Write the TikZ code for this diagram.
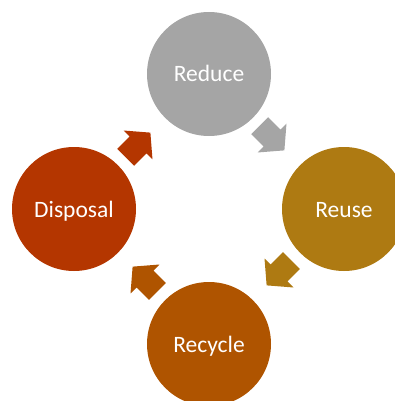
\documentclass[tikz,border=0pt]{standalone}
\usepackage{fontspec}
\setmainfont{Carlito}
\definecolor{cgray}{HTML}{A5A5A5}
\definecolor{cgold}{HTML}{AE7A12}
\definecolor{corange}{HTML}{AF5400}
\definecolor{cred}{HTML}{B43600}
\begin{document}
\begin{tikzpicture}[x=1pt,y=-1pt,
  circ/.style={circle, minimum size=124pt, inner sep=0pt, text=white,
    font=\fontsize{23.5}{28}\selectfont, text height=16pt, text depth=0pt},
  cyclearrow/.pic={\fill[pic actions] (-17.5,-12) -- (0,-12) -- (0,-20.5) -- (17.5,0) -- (0,20.5) -- (0,12) -- (-17.5,12) -- cycle;}]
\useasboundingbox (0,0) rectangle (395,401);
\clip (0,0) rectangle (395,401);
\node[circ, fill=cgray] (reduce) at (209,74) {Reduce};
\node[circ, fill=cgold] (reuse) at (344,209) {Reuse};
\node[circ, fill=corange] (recycle) at (209,344) {Recycle};
\node[circ, fill=cred] (disposal) at (74,209) {Disposal};
\pic[fill=cgray, rotate=-45] at (272,138) {cyclearrow};
\pic[fill=cgold, rotate=-135] at (279,273) {cyclearrow};
\pic[fill=corange, rotate=135] at (145,279) {cyclearrow};
\pic[fill=cred, rotate=45] at (138,145) {cyclearrow};
\end{tikzpicture}
\end{document}
